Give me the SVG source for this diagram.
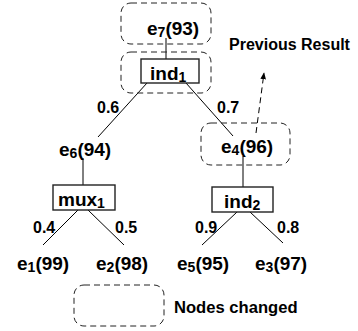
<svg xmlns="http://www.w3.org/2000/svg" width="358" height="331" viewBox="0 0 358 331">
<defs>
<style>
text{font-family:"Liberation Sans",Arial,sans-serif;font-weight:bold;fill:#000}
.n{font-size:19px}
.s{font-size:14px}
.w{font-size:16px}
.l{font-size:16.6px}
.box{fill:#fff;stroke:#222;stroke-width:1.4}
.dash{fill:none;stroke:#222;stroke-width:1;stroke-dasharray:6 4}
.e{stroke:#000;stroke-width:1;fill:none}
</style>
<marker id="ah" viewBox="0 0 10 10" refX="9" refY="5" markerWidth="7" markerHeight="7" orient="auto" markerUnits="userSpaceOnUse">
<path d="M0,1 L10,5 L0,9 z" fill="#000"/>
</marker>
</defs>
<g id="connectors">
<line class="e" x1="166" y1="38" x2="166" y2="59"/>
<line class="e" x1="147" y1="83" x2="98" y2="137"/>
<line class="e" x1="186" y1="83" x2="233" y2="136"/>
<line class="e" x1="83" y1="158" x2="83" y2="185"/>
<line class="e" x1="243" y1="156" x2="243" y2="187"/>
<line class="e" x1="78" y1="210" x2="43" y2="245"/>
<line class="e" x1="88" y1="210" x2="124" y2="245"/>
<line class="e" x1="237" y1="212" x2="202" y2="245"/>
<line class="e" x1="250" y1="212" x2="283" y2="243"/>
<line x1="256" y1="133" x2="264" y2="73" stroke="#000" stroke-width="1" stroke-dasharray="6 4" marker-end="url(#ah)"/>
<text class="w" x="97" y="113">0.6</text>
<text class="w" x="217" y="113">0.7</text>
<text class="w" x="33" y="233">0.4</text>
<text class="w" x="115" y="233">0.5</text>
<text class="w" x="195" y="233">0.9</text>
<text class="w" x="277" y="233">0.8</text>
</g>
<g id="changed-e7"><rect class="dash" x="121" y="3" width="90" height="41" rx="10"/></g>
<g id="e7"><text class="n" x="147" y="35">e<tspan class="s" dy="2">7</tspan><tspan dy="-2">(93)</tspan></text></g>
<g id="changed-ind1"><rect class="dash" x="121" y="52" width="90" height="41" rx="10"/></g>
<g id="ind1"><rect class="box" x="141" y="59" width="58" height="24"/><text class="n" x="150" y="80">ind<tspan class="s" dy="2">1</tspan></text></g>
<g id="e6"><text class="n" x="59" y="156">e<tspan class="s" dy="2">6</tspan><tspan dy="-2">(94)</tspan></text></g>
<g id="changed-e4"><rect class="dash" x="201" y="123" width="89" height="42" rx="10"/></g>
<g id="e4"><text class="n" x="221" y="153">e<tspan class="s" dy="2">4</tspan><tspan dy="-2">(96)</tspan></text></g>
<g id="mux1"><rect class="box" x="53" y="185" width="62" height="25"/><text class="n" x="58" y="206">mux<tspan class="s" dy="2">1</tspan></text></g>
<g id="ind2"><rect class="box" x="212" y="187" width="61" height="25"/><text class="n" x="224" y="208">ind<tspan class="s" dy="2">2</tspan></text></g>
<g id="e1"><text class="n" x="17" y="270">e<tspan class="s" dy="2">1</tspan><tspan dy="-2">(99)</tspan></text></g>
<g id="e2"><text class="n" x="96" y="270">e<tspan class="s" dy="2">2</tspan><tspan dy="-2">(98)</tspan></text></g>
<g id="e5"><text class="n" x="177" y="270">e<tspan class="s" dy="2">5</tspan><tspan dy="-2">(95)</tspan></text></g>
<g id="e3"><text class="n" x="255" y="270">e<tspan class="s" dy="2">3</tspan><tspan dy="-2">(97)</tspan></text></g>
<g id="prev"><text class="w" x="229" y="50">Previous Result</text></g>
<g id="legend"><rect class="dash" x="74" y="285" width="90" height="41" rx="10"/><text class="l" x="174" y="313">Nodes changed</text></g>
</svg>
